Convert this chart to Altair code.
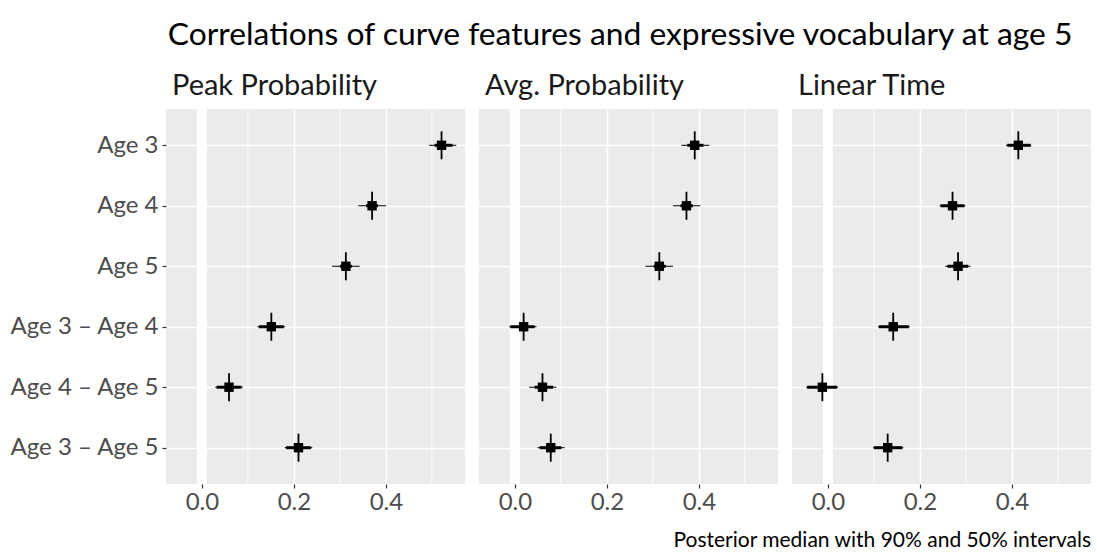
import altair as alt
import pandas as pd

# Row labels (top to bottom) and facet panels
rows = ["Age 3", "Age 4", "Age 5", "Age 3 – Age 4", "Age 4 – Age 5", "Age 3 – Age 5"]
panels = ["Peak Probability", "Avg. Probability", "Linear Time"]

# Posterior medians
peak_median = [0.521, 0.370, 0.313, 0.151, 0.059, 0.210]
avg_median = [0.391, 0.373, 0.314, 0.019, 0.060, 0.078]
lin_median = [0.414, 0.271, 0.283, 0.142, -0.012, 0.130]

# 90% intervals
peak_lo90 = [0.494, 0.340, 0.283, 0.121, 0.029, 0.180]
peak_hi90 = [0.553, 0.400, 0.343, 0.181, 0.089, 0.240]
avg_lo90 = [0.362, 0.344, 0.284, -0.012, 0.031, 0.049]
avg_hi90 = [0.423, 0.403, 0.344, 0.047, 0.090, 0.108]
lin_lo90 = [0.387, 0.243, 0.255, 0.109, -0.047, 0.098]
lin_hi90 = [0.442, 0.299, 0.310, 0.178, 0.022, 0.164]

# 50% intervals
peak_lo50 = [0.506, 0.357, 0.300, 0.124, 0.032, 0.183]
peak_hi50 = [0.545, 0.383, 0.326, 0.178, 0.086, 0.237]
avg_lo50 = [0.375, 0.360, 0.302, -0.010, 0.043, 0.054]
avg_hi50 = [0.410, 0.387, 0.328, 0.043, 0.083, 0.101]
lin_lo50 = [0.390, 0.245, 0.260, 0.111, -0.045, 0.100]
lin_hi50 = [0.441, 0.297, 0.305, 0.176, 0.020, 0.162]

x_ticks = [0.0, 0.2, 0.4]
x_minor = [0.1, 0.3, 0.5]
x_domain = [-0.078, 0.572]

series = {
    "Peak Probability": (peak_median, peak_lo90, peak_hi90, peak_lo50, peak_hi50),
    "Avg. Probability": (avg_median, avg_lo90, avg_hi90, avg_lo50, avg_hi50),
    "Linear Time": (lin_median, lin_lo90, lin_hi90, lin_lo50, lin_hi50),
}

FONT = "Lato"
W, H = 299, 375
GRID = "#FFFFFF"
LABEL_SIZE = 24


def panel(name, first, last):
    med, lo90, hi90, lo50, hi50 = series[name]
    df = pd.DataFrame({
        "row": rows, "median": med,
        "lo90": lo90, "hi90": hi90, "lo50": lo50, "hi50": hi50,
    })
    xscale = alt.Scale(domain=x_domain, nice=False, zero=False)
    yscale = alt.Scale(domain=rows, type="point", padding=0.6)
    xaxis = alt.Axis(values=x_ticks, format=".1f", title=None, grid=True,
                     gridColor=GRID, gridWidth=1.6, domain=False,
                     tickColor="#333333", tickSize=4, tickWidth=1.2,
                     labelFont=FONT, labelFontSize=LABEL_SIZE, labelColor="#4D4D4D",
                     labelPadding=2)
    if first:
        yaxis = alt.Axis(title=None, grid=True, gridColor=GRID, gridWidth=1.6,
                         domain=False, tickColor="#333333", tickSize=4,
                         tickWidth=1.2, labelFont=FONT, labelFontSize=LABEL_SIZE,
                         labelColor="#4D4D4D", labelPadding=4)
    else:
        yaxis = alt.Axis(title=None, grid=True, gridColor=GRID, gridWidth=1.6,
                         domain=False, ticks=False, labels=False)

    base = alt.Chart(df)
    minor = alt.Chart(pd.DataFrame({"x": x_minor})).mark_rule(
        color=GRID, strokeWidth=0.8
    ).encode(x=alt.X("x:Q", scale=xscale, axis=xaxis))
    zero = alt.Chart(pd.DataFrame({"x": [0.0]})).mark_rule(
        color=GRID, strokeWidth=10
    ).encode(x=alt.X("x:Q", scale=xscale))
    outer = base.mark_rule(color="black", strokeWidth=1).encode(
        x=alt.X("lo90:Q", scale=xscale), x2="hi90:Q",
        y=alt.Y("row:N", scale=yscale, axis=yaxis, sort=rows))
    inner = base.mark_rule(color="black", strokeWidth=3).encode(
        x=alt.X("lo50:Q", scale=xscale), x2="hi50:Q",
        y=alt.Y("row:N", scale=yscale, sort=rows))
    vtick = base.mark_tick(color="black", orient="vertical", size=28,
                           thickness=1.8, opacity=1).encode(
        x=alt.X("median:Q", scale=xscale),
        y=alt.Y("row:N", scale=yscale, sort=rows))
    pts = base.mark_point(shape="square", filled=True, color="black",
                          size=88, opacity=1).encode(
        x=alt.X("median:Q", scale=xscale),
        y=alt.Y("row:N", scale=yscale, sort=rows))
    layers = [minor, zero, outer, inner, vtick, pts]
    if last:
        cap = alt.Chart(pd.DataFrame({"t": ["Posterior median with 90% and 50% intervals"]})).mark_text(
            align="right", baseline="middle", font=FONT, fontSize=21, color="black"
        ).encode(x=alt.value(W), y=alt.value(H + 57), text="t:N")
        layers.append(cap)
    return alt.layer(*layers).properties(
        width=W, height=H,
        title=alt.TitleParams(name, anchor="start", frame="group", font=FONT,
                              fontSize=29, fontWeight="normal", color="#1A1A1A",
                              dx=6, offset=3),
    )


chart = alt.hconcat(
    panel(panels[0], True, False),
    panel(panels[1], False, False),
    panel(panels[2], False, True),
    spacing=14,
    bounds="flush",
).properties(
    title=alt.TitleParams(
        "Correlations of curve features and expressive vocabulary at age 5",
        font=FONT, fontSize=31.8, fontWeight="normal", color="black",
        anchor="middle", dx=70, offset=20,
    ),
    padding={"left": 9, "right": 5, "top": 20, "bottom": 5},
).configure_view(fill="#EBEBEB", stroke=None)

chart.save("out.html", embed_options={"renderer": "svg", "actions": False})
